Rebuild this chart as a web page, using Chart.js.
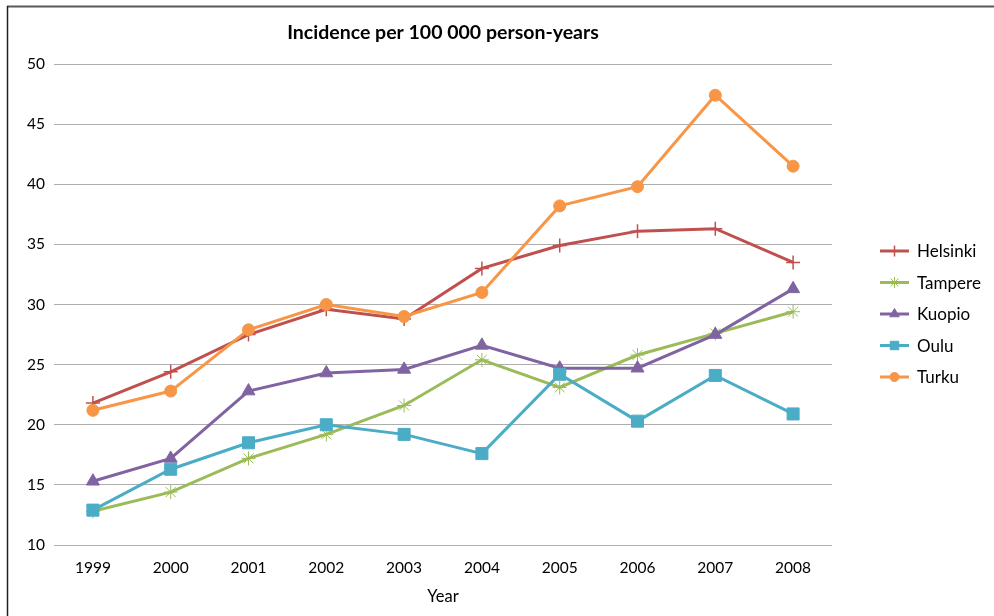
<!DOCTYPE html>
<html>
<head>
<meta charset="utf-8">
<title>Incidence per 100 000 person-years</title>
<script src="https://cdn.jsdelivr.net/npm/chart.js@4/dist/chart.umd.min.js"></script>
<style>
  html, body { margin: 0; padding: 0; background: #fff; }
  #wrap { width: 994px; height: 616px; position: relative; }
</style>
</head>
<body>
<div id="wrap"><canvas id="incidence"></canvas></div>
<script>
const years = ['1999', '2000', '2001', '2002', '2003', '2004', '2005', '2006', '2007', '2008'];
const helsinki = [21.8, 24.4, 27.5, 29.6, 28.8, 33.0, 34.9, 36.1, 36.3, 33.5];
const tampere  = [12.8, 14.4, 17.2, 19.2, 21.6, 25.4, 23.1, 25.8, 27.6, 29.4];
const kuopio   = [15.3, 17.2, 22.8, 24.3, 24.6, 26.6, 24.7, 24.7, 27.5, 31.3];
const oulu     = [12.9, 16.3, 18.5, 20.0, 19.2, 17.6, 24.2, 20.3, 24.1, 20.9];
const turku    = [21.2, 22.8, 27.9, 30.0, 29.0, 31.0, 38.2, 39.8, 47.4, 41.5];

const FONT = 'Lato, "Open Sans", sans-serif';

function series(label, data, color, style, radius, order, bw) {
  return {
    label, data, order,
    borderColor: color,
    backgroundColor: color,
    borderWidth: 3,
    pointStyle: style,
    pointRadius: radius,
    pointHoverRadius: radius,
    pointBorderWidth: bw,
    pointBorderColor: color,
    pointBackgroundColor: color,
    tension: 0
  };
}

// white background plus the frame lines along the top and left edge
const frame = {
  id: 'frame',
  beforeDraw(chart) {
    const ctx = chart.ctx;
    ctx.save();
    ctx.fillStyle = '#fff';
    ctx.fillRect(0, 0, chart.width, chart.height);
    ctx.strokeStyle = '#595959';
    ctx.lineWidth = 2;
    ctx.beginPath();
    ctx.moveTo(7, 6.5);
    ctx.lineTo(chart.width, 6.5);
    ctx.stroke();
    ctx.strokeStyle = '#222';
    ctx.lineWidth = 1.5;
    ctx.beginPath();
    ctx.moveTo(7.5, 6);
    ctx.lineTo(7.5, chart.height);
    ctx.stroke();
    ctx.restore();
  }
};

// legend with a line sample and the series marker
const lineLegend = {
  id: 'lineLegend',
  afterDraw(chart) {
    const ctx = chart.ctx;
    const area = chart.chartArea;
    const x0 = area.right + 48;
    let y = area.top + 187;
    ctx.save();
    chart.data.datasets.forEach(ds => {
      ctx.strokeStyle = ds.borderColor;
      ctx.fillStyle = ds.backgroundColor;
      ctx.lineWidth = 3;
      ctx.beginPath();
      ctx.moveTo(x0, y);
      ctx.lineTo(x0 + 29, y);
      ctx.stroke();
      const r = ds.pointStyle === 'rect' ? 6 : (ds.pointStyle === 'circle' ? 4.5 : 5.5);
      ctx.lineWidth = ds.pointBorderWidth;
      Chart.helpers.drawPoint(ctx, {
        pointStyle: ds.pointStyle, radius: r, rotation: 0, borderWidth: ds.pointBorderWidth
      }, x0 + 14.5, y);
      ctx.fillStyle = '#000';
      ctx.font = '17px ' + FONT;
      ctx.textBaseline = 'middle';
      ctx.textAlign = 'left';
      ctx.fillText(ds.label, x0 + 37, y + 1);
      y += 31.5;
    });
    ctx.restore();
  }
};

new Chart(document.getElementById('incidence'), {
  type: 'line',
  data: {
    labels: years,
    datasets: [
      series('Helsinki', helsinki, '#C0504D', 'cross', 7, 5, 1.5),
      series('Tampere', tampere, '#9BBB59', 'star', 7, 4, 1),
      series('Kuopio', kuopio, '#8064A2', 'triangle', 7.5, 3, 1),
      series('Oulu', oulu, '#4BACC6', 'rect', 8.5, 2, 1),
      series('Turku', turku, '#F79646', 'circle', 6, 1, 1)
    ]
  },
  options: {
    responsive: true,
    maintainAspectRatio: false,
    animation: false,
    layout: { padding: { top: 0, left: 0, right: 162, bottom: 0 } },
    plugins: {
      legend: { display: false },
      tooltip: { enabled: false },
      title: {
        display: true,
        fullSize: false,
        text: 'Incidence per 100 000 person-years',
        color: '#000',
        font: { family: FONT, size: 19.5, weight: 'bold' },
        padding: { top: 21, bottom: 19.6 }
      }
    },
    scales: {
      x: {
        offset: true,
        grid: { display: false },
        border: { display: false },
        ticks: { color: '#000', font: { family: FONT, size: 15.5 }, padding: 6, maxRotation: 0 },
        title: {
          display: true,
          text: 'Year',
          color: '#000',
          font: { family: FONT, size: 16.5 },
          padding: { top: 0, bottom: 9 }
        },
        afterFit(scale) { scale.height = 71; }
      },
      y: {
        min: 10,
        max: 50,
        ticks: { stepSize: 5, color: '#000', font: { family: FONT, size: 15.5 }, padding: 9 },
        grid: { color: '#ADADAD', lineWidth: 1, drawTicks: false },
        border: { display: false },
        afterFit(scale) { scale.width = 54; }
      }
    }
  },
  plugins: [frame, lineLegend]
});
</script>
</body>
</html>
